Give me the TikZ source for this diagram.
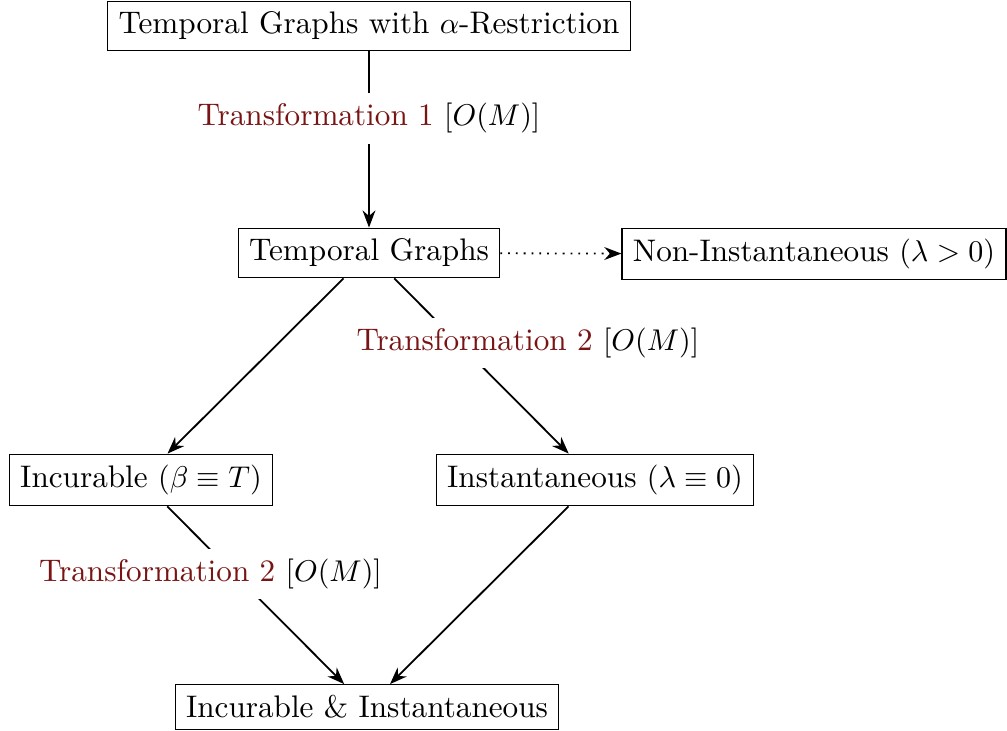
\documentclass[tikz,border=0pt]{standalone}
\usetikzlibrary{arrows.meta}
\definecolor{labelred}{RGB}{120,20,20}
\begin{document}
\begin{tikzpicture}[x=0.3333pt,y=-0.3333pt,
  every node/.style={font=\fontsize{10.4pt}{12.5pt}\selectfont},
  box/.style={draw,line width=0.4pt,inner sep=3.6pt},
  link/.style={-{Stealth},line width=0.6pt},
  hint/.style={link,dotted},
  tlabel/.style={fill=white,inner sep=3.4pt}]
\useasboundingbox (0,0) rectangle (1007,731);
\node[box] (top)  at (369,26)  {Temporal Graphs with $\alpha$-Restriction};
\node[box] (tg)   at (369,253) {Temporal Graphs};
\node[box] (ni)   at (814,254) {Non-Instantaneous $(\lambda>0)$};
\node[box] (inc)  at (141,480) {Incurable $(\beta\equiv T)$};
\node[box] (inst) at (595,480) {Instantaneous $(\lambda\equiv 0)$};
\node[box] (ii)   at (367,707) {Incurable \& Instantaneous};
\draw[link] (top) -- node[tlabel,pos=0.38] {\color{labelred}Transformation 1 \color{black}$[O(M)]$} (tg);
\draw[hint] (tg) -- (ni);
\draw[link] (tg) -- (inc);
\draw[link] (tg) -- node[tlabel,pos=0.37,xshift=23pt] {\color{labelred}Transformation 2 \color{black}$[O(M)]$} (inst);
\draw[link] (inc) -- node[tlabel,pos=0.38,xshift=-8pt] {\color{labelred}Transformation 2 \color{black}$[O(M)]$} (ii);
\draw[link] (inst) -- (ii);
\end{tikzpicture}
\end{document}
